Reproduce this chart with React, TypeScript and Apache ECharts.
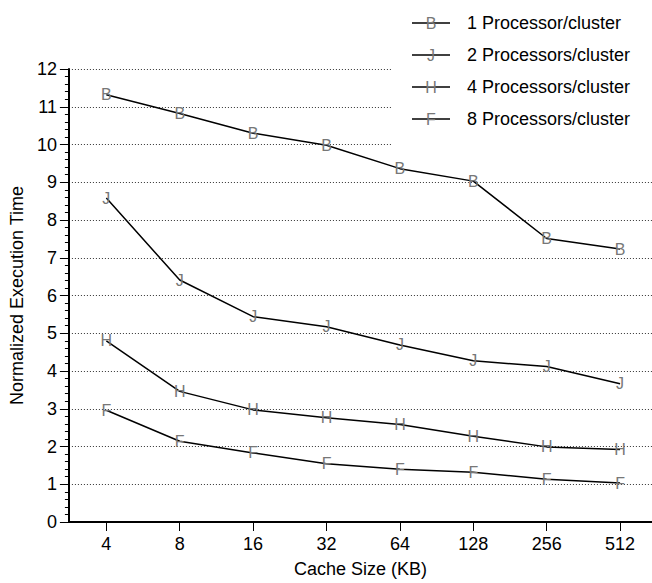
import React, { useEffect, useRef } from "react";
import * as echarts from "echarts";

const categories = ["4", "8", "16", "32", "64", "128", "256", "512"];
const seriesNames = [
  "1 Processor/cluster",
  "2 Processors/cluster",
  "4 Processors/cluster",
  "8 Processors/cluster",
];
const markerLetters = ["B", "J", "H", "F"];
const onePerCluster = [11.32, 10.82, 10.3, 9.98, 9.36, 9.03, 7.51, 7.23];
const twoPerCluster = [8.58, 6.41, 5.44, 5.17, 4.69, 4.27, 4.12, 3.66];
const fourPerCluster = [4.8, 3.46, 2.97, 2.76, 2.58, 2.27, 1.99, 1.92];
const eightPerCluster = [2.96, 2.14, 1.83, 1.54, 1.4, 1.32, 1.13, 1.03];
const yTicks = [0, 1, 2, 3, 4, 5, 6, 7, 8, 9, 10, 11, 12];

const FONT = "'Liberation Sans', Arial, Helvetica, sans-serif";
const allSeries = [onePerCluster, twoPerCluster, fourPerCluster, eightPerCluster];

export default function App() {
  const ref = useRef<HTMLDivElement>(null);
  useEffect(() => {
    if (!ref.current) return;
    const chart = echarts.init(ref.current, null, { renderer: "svg" });
    const idx = categories.map((_, i) => i);
    const legendChildren: any[] = [];
    seriesNames.forEach((name, i) => {
      const y = 23 + i * 32;
      legendChildren.push(
        { type: "line", shape: { x1: 412, y1: y, x2: 450, y2: y }, style: { stroke: "#000", lineWidth: 1.5 } },
        { type: "text", x: 431, y: y, style: { text: markerLetters[i], fill: "#777", font: `16px ${FONT}`, align: "center", verticalAlign: "middle" } },
        { type: "text", x: 467, y: y, style: { text: name, fill: "#000", font: `18px ${FONT}`, align: "left", verticalAlign: "middle" } }
      );
    });
    chart.setOption({
      animation: false,
      backgroundColor: "#fff",
      grid: { left: 67, right: 0, top: 69, bottom: 61, containLabel: false },
      xAxis: {
        type: "value",
        min: -0.51,
        max: 7.435,
        name: "Cache Size (KB)",
        nameLocation: "middle",
        nameGap: 38,
        nameTextStyle: { fontFamily: FONT, fontSize: 18, color: "#000" },
        axisLine: { show: true, onZero: false, lineStyle: { color: "#000", width: 2 } },
        axisTick: { show: true, customValues: idx, length: 9, lineStyle: { color: "#000", width: 1 } },
        axisLabel: {
          show: true,
          customValues: idx,
          margin: 13,
          fontFamily: FONT,
          fontSize: 18,
          color: "#000",
          formatter: (v: number) => categories[Math.round(v)] ?? "",
        },
        splitLine: { show: false },
      },
      yAxis: {
        type: "value",
        min: 0,
        max: 12,
        interval: 1,
        name: "Normalized Execution Time",
        nameLocation: "middle",
        nameGap: 40,
        nameTextStyle: { fontFamily: FONT, fontSize: 18, color: "#000" },
        axisLine: { show: true, onZero: false, lineStyle: { color: "#000", width: 2 } },
        axisTick: { show: true, length: 9, lineStyle: { color: "#000", width: 1 } },
        minorTick: { show: true, splitNumber: 5, length: 4, lineStyle: { color: "#000", width: 1 } },
        axisLabel: {
          margin: 12,
          fontFamily: FONT,
          fontSize: 18,
          color: "#000",
          formatter: (v: number) => (yTicks.includes(v) ? String(v) : ""),
        },
        splitLine: { show: true, lineStyle: { color: "#333", width: 1, type: [1, 2] } },
      },
      series: allSeries.map((vals, i) => ({
        type: "line",
        name: seriesNames[i],
        data: vals.map((v, j) => [idx[j], v]),
        symbol: "circle",
        symbolSize: 12,
        itemStyle: { color: "rgba(0,0,0,0)" },
        lineStyle: { color: "#000", width: 1.5 },
        label: {
          show: true,
          position: "inside",
          formatter: markerLetters[i],
          color: "#777",
          fontFamily: FONT,
          fontSize: 16,
        },
        emphasis: { disabled: true },
      })),
      graphic: [
        {
          type: "group",
          children: [
            { type: "rect", shape: { x: 392, y: 0, width: 260, height: 160 }, style: { fill: "#fff" }, z: 100 },
            ...legendChildren.map((c) => ({ ...c, z: 101 })),
          ],
        },
      ],
    });
    return () => chart.dispose();
  }, []);
  return (
    <div
      ref={ref}
      style={{ position: "absolute", left: 0, top: 0, width: 652, height: 583 }}
    />
  );
}
